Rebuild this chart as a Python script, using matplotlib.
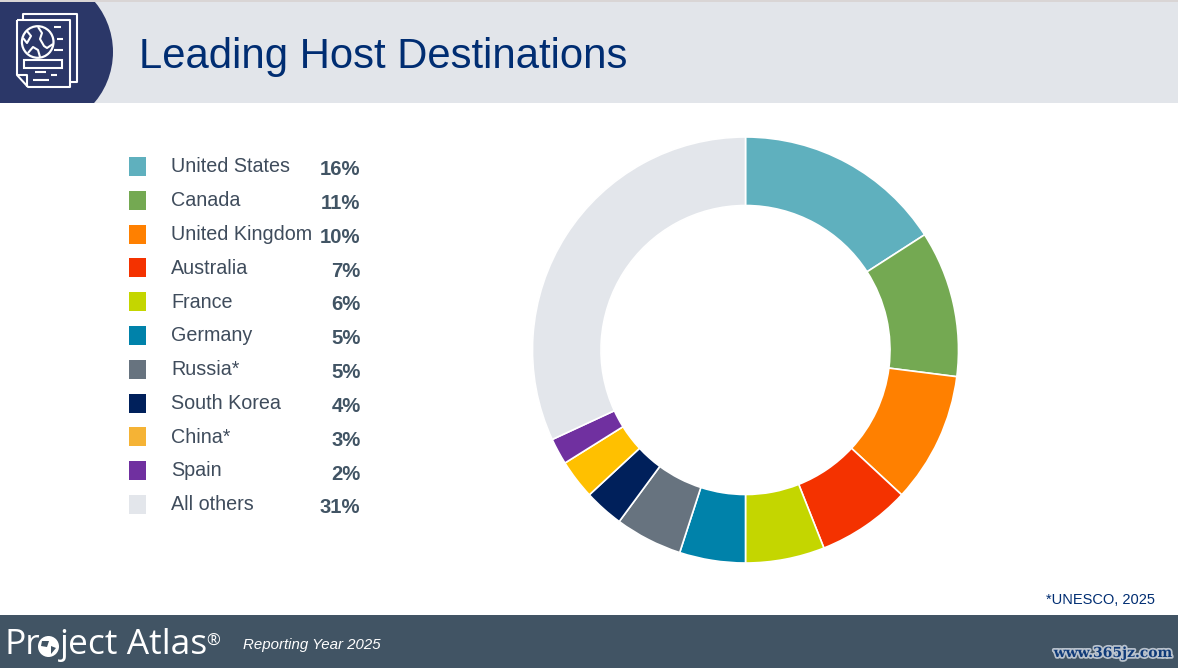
import matplotlib
matplotlib.use("Agg")
import matplotlib.pyplot as plt
import matplotlib.patheffects as pe
from matplotlib.patches import Rectangle, Circle, Polygon

countries = ["United States", "Canada", "United Kingdom", "Australia", "France", "Germany",
             "Russia*", "South Korea", "China*", "Spain", "All others"]
labels = ["16%", "11%", "10%", "7%", "6%", "5%", "5%", "4%", "3%", "2%", "31%"]
shares = [15.9, 11.1, 9.9, 7.1, 6.0, 5.0, 5.1, 3.0, 3.0, 2.0, 31.9]
slice_colors = ["#5FB0BE", "#74A952", "#FF8000", "#F43200", "#C4D600", "#0082AA",
                "#67737F", "#00205B", "#FFC000", "#7030A0", "#E3E6EB"]
swatch_colors = ["#5FB0BE", "#74A952", "#FF8000", "#F43200", "#C4D600", "#0082AA",
                 "#67737F", "#00205B", "#F5B335", "#7030A0", "#E3E6EB"]

W, H = 1178, 668
plt.rcParams["font.family"] = ["Liberation Sans", "DejaVu Sans"]
fig = plt.figure(figsize=(W / 100, H / 100), dpi=100, facecolor="white")
ax = fig.add_axes([0, 0, 1, 1])
ax.set_xlim(0, W)
ax.set_ylim(H, 0)
ax.axis("off")

# header / footer bands
ax.add_patch(Rectangle((0, 0), W, 2, fc="#D9D5D5", ec="none", zorder=1))
ax.add_patch(Rectangle((0, 2), W, 101, fc="#E2E5EA", ec="none", zorder=1))
ax.add_patch(Rectangle((0, 615), W, 53, fc="#415464", ec="none", zorder=1))

# header tab
tab = Circle((34.6, 52), 78.4, fc="#2B3768", ec="none", zorder=2)
ax.add_patch(tab)
tab.set_clip_path(Rectangle((0, 2), 200, 101, transform=ax.transData))

# header icon
ic = dict(color="white", lw=1.5, zorder=3, solid_capstyle="butt")
for xs, ys in [
    ([23, 23, 77, 77, 70], [20, 14, 14, 82, 82]),
    ([17, 70, 70, 28, 17, 17], [20, 20, 87, 87, 75, 20]),
    ([17, 27, 27], [75, 75, 87]),
    ([54, 61], [27, 27]), ([57, 63], [39, 39]), ([54, 63], [50, 50]),
    ([35, 46], [72, 72]), ([51, 57], [75, 75]), ([33, 49], [80, 80]),
]:
    ax.plot(xs, ys, **ic)
ax.add_patch(Circle((37.7, 42), 15.8, fc="none", ec="white", lw=1.6, zorder=3))
ax.plot([27, 31, 27, 23], [31, 36, 43, 38], **ic)
ax.plot([38, 42, 40, 44, 47, 53], [27, 33, 39, 46, 48, 44], **ic)
ax.plot([28, 33, 38, 40], [53, 47, 50, 57], **ic)
ax.add_patch(Rectangle((24, 60), 38, 7.5, fc="none", ec="white", lw=1.5, zorder=3))

# title and notes
ax.text(139, 68, "Leading Host Destinations", color="#002D72", fontsize=30.2, va="baseline", ha="left", zorder=4)
ax.text(1155, 600.5, "*UNESCO, 2025", color="#002D72", fontsize=10.5, va="center", ha="right", zorder=4)

# legend
row0, step = 166.5, 33.8
for i, (name, value, colour) in enumerate(zip(countries, labels, swatch_colors)):
    y = row0 + i * step
    ax.add_patch(Rectangle((129, y - 9.5), 17, 19, fc=colour, ec="none", zorder=3))
    ax.text(171, y + 5.8, name, color="#3F4C5C", fontsize=14.2, va="baseline", ha="left", zorder=4)
    ax.text(360.5, y + 8.8, value, color="#415464", fontsize=14.6, fontweight="bold", va="baseline", ha="right", zorder=4)

# footer brand
brand = dict(color="white", fontsize=25.5, family="Open Sans", va="baseline", ha="left", zorder=4)
ax.text(4, 654, "Pr", **brand)
ax.add_patch(Circle((48.5, 646.5), 10.5, fc="white", ec="none", zorder=4))
ax.add_patch(Polygon([(42, 641), (49, 641), (47, 647), (41, 646)], fc="#415464", ec="none", zorder=5))
ax.add_patch(Polygon([(51, 646), (56, 648), (51, 654)], fc="#415464", ec="none", zorder=5))
ax.text(60, 654, "ject Atlas", **brand)
ax.text(206.5, 642, "®", color="white", fontsize=12, family="Open Sans", va="center", ha="left", zorder=4)
ax.text(243, 645.5, "Reporting Year 2025", color="white", fontsize=10.8, style="italic", va="center", ha="left", zorder=4)
ax.text(1113, 653, "www.365jz.com", color="#0F3A78", fontsize=10, family="DejaVu Serif", fontweight="bold",
        va="center", ha="center", zorder=4,
        path_effects=[pe.withStroke(linewidth=2.5, foreground="#B9C2CC")])

# donut
cx, cy, r = 745.5, 350, 213
pie_ax = fig.add_axes([(cx - r) / W, 1 - (cy + r) / H, 2 * r / W, 2 * r / H])
pie_ax.pie(shares, colors=slice_colors, startangle=90, counterclock=False, radius=1,
           wedgeprops=dict(width=68.5 / 213, edgecolor="white", linewidth=1.2))
pie_ax.set_xlim(-1, 1)
pie_ax.set_ylim(-1, 1)
pie_ax.set_aspect("equal")
for p in pie_ax.patches:
    p.set_clip_on(False)

fig.savefig("out.png", dpi=100, facecolor="white")
